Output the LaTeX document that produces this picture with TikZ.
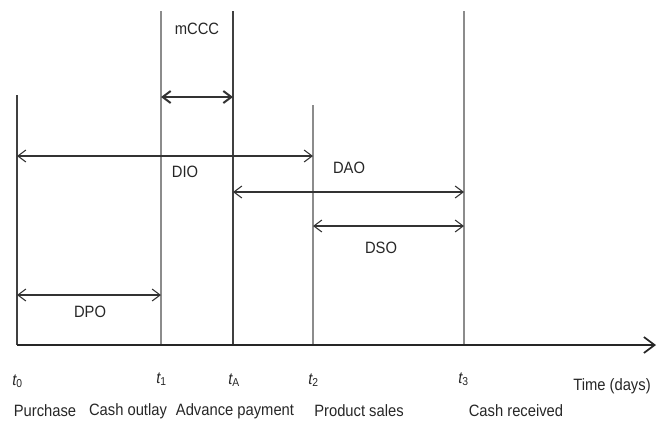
\documentclass[tikz,border=0pt]{standalone}
\usepackage{fontspec}
\setmainfont[FakeStretch=0.9]{Liberation Sans}
\usetikzlibrary{arrows.meta}
\begin{document}
\begin{tikzpicture}[x=0.75pt,y=-0.75pt,
  vline/.style={draw=black!75,line width=0.8pt},
  lvline/.style={draw=black!45,line width=0.8pt},
  span/.style={draw=black!80,line width=0.8pt,{Straight Barb[length=6pt,width=9pt]}-{Straight Barb[length=6pt,width=9pt]}},
  lbl/.style={font=\fontsize{12.3}{14}\selectfont,text=black!85,inner sep=0pt},
  tick/.style={font=\fontsize{12.3}{14}\selectfont,text=black!85,inner sep=0pt,anchor=west}]
\useasboundingbox (0,0) rectangle (663,422);
% coordinates
\coordinate (a0) at (17,345);
\coordinate (a1) at (161,345);
\coordinate (aA) at (233,345);
\coordinate (a2) at (313,345);
\coordinate (a3) at (464,345);
\coordinate (aend) at (656,345);
\coordinate (top0) at (17,95);
\coordinate (top1) at (161,11);
\coordinate (topA) at (233,11);
\coordinate (top2) at (313,105);
\coordinate (top3) at (464,11);
% verticals
\draw[vline] (top0) -- (a0);
\draw[lvline] (top1) -- (a1);
\draw[vline] (topA) -- (aA);
\draw[lvline] (top2) -- (a2);
\draw[lvline] (top3) -- (a3);
% axis
\draw[draw=black!85,line width=1.3pt,-{Straight Barb[length=8pt,width=12pt,line width=1.3pt]}] (a0) -- (aend);
% spans
\draw[span,line width=1.5pt] (161,97) coordinate (m1) -- (233,97) coordinate (m2);
\draw[span] (17,156) coordinate (dio1) -- (313,156) coordinate (dio2);
\draw[span] (233,192) coordinate (dao1) -- (464,192) coordinate (dao2);
\draw[span] (313,226) coordinate (dso1) -- (464,226) coordinate (dso2);
\draw[span] (17,295) coordinate (dpo1) -- (161,295) coordinate (dpo2);
% labels
\node[lbl] (lmccc) at (197,29) {mCCC};
\node[lbl] (ldio) at (185,172) {DIO};
\node[lbl] (ldao) at (349,168) {DAO};
\node[lbl] (ldso) at (381,248) {DSO};
\node[lbl] (ldpo) at (90,312) {DPO};
% ticks
\node[tick] (t0) at (12,381) {\itshape t\upshape\textsubscript{0}};
\node[tick] (t1) at (156,379) {\itshape t\upshape\textsubscript{1}};
\node[tick] (tA) at (228,380) {\itshape t\upshape\textsubscript{A}};
\node[tick] (t2) at (308,380) {\itshape t\upshape\textsubscript{2}};
\node[tick] (t3) at (458,379) {\itshape t\upshape\textsubscript{3}};
\node[lbl] (time) at (612,386) {Time (days)};
% bottom labels
\node[lbl] (p) at (45,411) {Purchase};
\node[lbl] (co) at (128,411) {Cash outlay};
\node[lbl] (ap) at (235,411) {Advance payment};
\node[lbl] (ps) at (359,411) {Product sales};
\node[lbl] (cr) at (516,411) {Cash received};
\end{tikzpicture}
\end{document}
